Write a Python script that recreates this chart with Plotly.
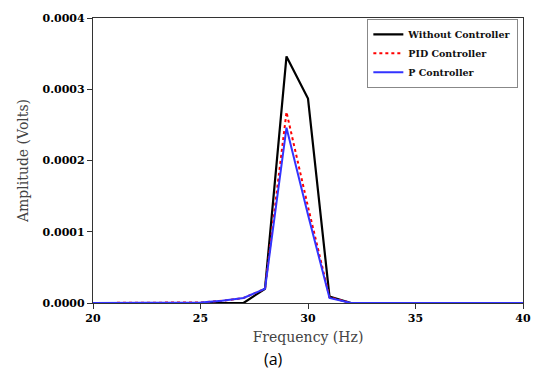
import plotly.graph_objects as go

freq = list(range(20, 41))
without_ctrl = [0, 0, 0, 0, 0, 0, 0, 0, 0.000020, 0.000346, 0.000287, 0.000009, 0,
                0, 0, 0, 0, 0, 0, 0, 0]
pid_ctrl = [0, 0, 0, 0, 0, 0.0000008, 0.000003, 0.000007, 0.000020, 0.000268, 0.000135, 0.000008, 0,
            0, 0, 0, 0, 0, 0, 0, 0]
p_ctrl = [0, 0, 0, 0, 0, 0.0000008, 0.000003, 0.000007, 0.000020, 0.000246, 0.000124, 0.000007, 0,
          0, 0, 0, 0, 0, 0, 0, 0]

x_ticks = [20, 25, 30, 35, 40]
y_ticks = [0, 0.0001, 0.0002, 0.0003, 0.0004]
y_tick_text = ["0.0000", "0.0001", "0.0002", "0.0003", "0.0004"]

serif = "'DejaVu Serif', serif"

fig = go.Figure()
fig.add_trace(go.Scatter(x=freq, y=without_ctrl, mode="lines", name="Without Controller",
                         line=dict(color="black", width=2.2)))
fig.add_trace(go.Scatter(x=freq, y=pid_ctrl, mode="lines", name="PID Controller",
                         line=dict(color="red", width=2, dash="dot")))
fig.add_trace(go.Scatter(x=freq, y=p_ctrl, mode="lines", name="P Controller",
                         line=dict(color="#3333ff", width=2)))

fig.update_layout(
    width=543, height=374,
    margin=dict(l=93, r=14, t=15, b=71),
    plot_bgcolor="white", paper_bgcolor="white",
    showlegend=True,
    legend=dict(x=0.638, y=0.997, xanchor="left", yanchor="top",
                bordercolor="#888888", borderwidth=1, bgcolor="white",
                font=dict(family=serif, size=9.5, color="#111", weight="bold"),
                tracegroupgap=0, itemwidth=30),
    xaxis=dict(range=[20, 40], tickvals=x_ticks, ticks="outside", ticklen=5,
               tickcolor="#333", showline=True, linecolor="#333", linewidth=1.3,
               mirror=True, showgrid=False, zeroline=False,
               tickfont=dict(family=serif, size=11, color="black", weight="bold"),
               title=dict(text="Frequency (Hz)", standoff=7,
                          font=dict(family=serif, size=14, color="#444"))),
    yaxis=dict(range=[0, 0.0004], tickvals=y_ticks, ticktext=y_tick_text, ticks="outside",
               ticklen=5, tickcolor="#333", showline=True, linecolor="#333", linewidth=1.3,
               mirror=True, showgrid=False, zeroline=False,
               tickfont=dict(family=serif, size=11, color="black", weight="bold"),
               title=dict(text="Amplitude (Volts)", standoff=10,
                          font=dict(family=serif, size=14, color="#444"))),
    annotations=[dict(text="(a)", x=0.42, y=-0.152, xref="paper", yref="paper",
                      xanchor="center", yanchor="top", showarrow=False,
                      font=dict(family="'Open Sans', sans-serif", size=16, color="black"))],
)

fig.write_html("out.html")
